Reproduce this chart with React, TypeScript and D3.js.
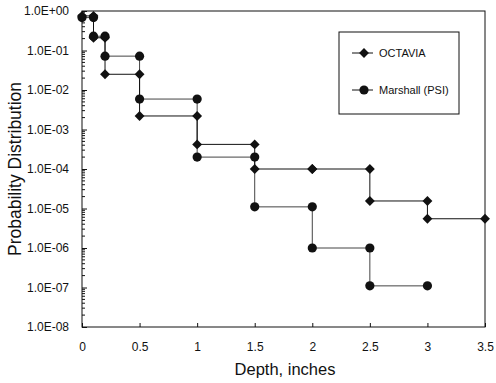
import React, { useEffect, useRef } from 'react';
import * as d3 from 'd3';

// step boundaries (inches) and the level of each step
const depthEdges = [0, 0.1, 0.2, 0.5, 1, 1.5, 2, 2.5, 3, 3.5];
const octaviaLevels = [0.75, 0.21, 0.025, 0.0022, 0.00042, 0.0001, 0.0001, 0.0000155, 0.0000055];
const marshallLevels = [0.68, 0.23, 0.072, 0.0059, 0.0002, 0.000011, 0.000001, 0.00000011];
const xTicks = [0, 0.5, 1, 1.5, 2, 2.5, 3, 3.5];
const yTickExps = [0, -1, -2, -3, -4, -5, -6, -7, -8];
const seriesNames = ['OCTAVIA', 'Marshall (PSI)'];

const stepPoints = (levels: number[]) => {
    const pts: [number, number][] = [];
    levels.forEach((v, i) => {
        pts.push([depthEdges[i], v]);
        pts.push([depthEdges[i + 1], v]);
    });
    return pts;
};

const Chart = () => {
    const svgRef = useRef<SVGSVGElement>(null);

    useEffect(() => {
        const svg = d3.select(svgRef.current);
        const width = 496;
        const height = 383;
        const margin = { top: 11, right: 11, bottom: 56, left: 82 };
        const font = 'Liberation Sans, Arial, sans-serif';
        const ink = '#111';

        svg.selectAll('*').remove();

        const x = d3.scaleLinear()
            .domain([0, 3.5])
            .range([margin.left, width - margin.right]);

        const y = d3.scaleLog()
            .domain([1e-8, 1])
            .range([height - margin.bottom, margin.top]);

        // frame
        svg.append('rect')
            .attr('x', margin.left)
            .attr('y', margin.top)
            .attr('width', width - margin.left - margin.right)
            .attr('height', height - margin.top - margin.bottom)
            .attr('fill', 'none')
            .attr('stroke', ink)
            .attr('stroke-width', 1);

        // minor ticks on the log axis
        const minors: number[] = [];
        for (let k = -8; k < 0; k++) {
            for (let m = 2; m <= 9; m++) minors.push(m * Math.pow(10, k));
        }
        svg.append('g')
            .selectAll('line')
            .data(minors)
            .enter()
            .append('line')
            .attr('x1', margin.left)
            .attr('x2', margin.left + 3)
            .attr('y1', d => y(d))
            .attr('y2', d => y(d))
            .attr('stroke', ink);

        const yAxis = svg.append('g')
            .attr('transform', `translate(${margin.left},0)`)
            .call(d3.axisLeft(y)
                .tickValues(yTickExps.map(k => Math.pow(10, k)))
                .tickSize(-5)
                .tickPadding(13)
                .tickFormat((d: any) => {
                    const k = Math.round(Math.log10(d));
                    return k === 0 ? '1.0E+00' : `1.0E-0${-k}`;
                }));
        yAxis.select('.domain').remove();
        yAxis.selectAll('line').attr('stroke', ink);
        yAxis.selectAll('text')
            .attr('font-family', font)
            .attr('font-size', 12)
            .attr('fill', ink);

        const xAxis = svg.append('g')
            .attr('transform', `translate(0,${height - margin.bottom})`)
            .call(d3.axisBottom(x)
                .tickValues(xTicks)
                .tickSize(-4)
                .tickPadding(15)
                .tickFormat(d3.format('')));
        xAxis.select('.domain').remove();
        xAxis.selectAll('line').attr('stroke', ink);
        xAxis.selectAll('text')
            .attr('font-family', font)
            .attr('font-size', 12)
            .attr('fill', ink);

        const line = d3.line<[number, number]>()
            .x(d => x(d[0]))
            .y(d => y(d[1]));

        const diamond = d3.symbol().type(d3.symbolDiamond2).size(62);

        const drawSeries = (levels: number[], isDiamond: boolean, stroke: string) => {
            const pts = stepPoints(levels);
            svg.append('path')
                .datum(pts)
                .attr('d', line)
                .attr('fill', 'none')
                .attr('stroke', stroke)
                .attr('stroke-width', 1);
            const g = svg.append('g');
            if (isDiamond) {
                g.selectAll('path')
                    .data(pts)
                    .enter()
                    .append('path')
                    .attr('d', diamond)
                    .attr('transform', d => `translate(${x(d[0])},${y(d[1])})`)
                    .attr('fill', ink);
            } else {
                g.selectAll('circle')
                    .data(pts)
                    .enter()
                    .append('circle')
                    .attr('cx', d => x(d[0]))
                    .attr('cy', d => y(d[1]))
                    .attr('r', 4.6)
                    .attr('fill', ink);
            }
        };

        drawSeries(marshallLevels, false, '#444');
        drawSeries(octaviaLevels, true, ink);

        // legend
        const legend = svg.append('g').attr('transform', 'translate(339,32)');
        legend.append('rect')
            .attr('width', 120)
            .attr('height', 82)
            .attr('fill', 'white')
            .attr('stroke', ink);
        seriesNames.forEach((name, i) => {
            const ly = 21 + i * 37;
            legend.append('line')
                .attr('x1', 13).attr('x2', 34)
                .attr('y1', ly).attr('y2', ly)
                .attr('stroke', ink);
            if (i === 0) {
                legend.append('path')
                    .attr('d', diamond)
                    .attr('transform', `translate(25,${ly})`)
                    .attr('fill', ink);
            } else {
                legend.append('circle')
                    .attr('cx', 25).attr('cy', ly).attr('r', 4.6)
                    .attr('fill', ink);
            }
            legend.append('text')
                .attr('x', 40)
                .attr('y', ly + 4)
                .attr('font-family', font)
                .attr('font-size', 11)
                .attr('fill', ink)
                .text(name);
        });

        svg.append('text')
            .attr('x', 285)
            .attr('y', 375)
            .attr('text-anchor', 'middle')
            .attr('font-family', font)
            .attr('font-size', 16.5)
            .attr('fill', ink)
            .text('Depth, inches');

        svg.append('text')
            .attr('transform', `translate(21,${(margin.top + height - margin.bottom) / 2}) rotate(-90)`)
            .attr('text-anchor', 'middle')
            .attr('font-family', font)
            .attr('font-size', 17.5)
            .attr('fill', ink)
            .text('Probability Distribution');
    }, []);

    return (
        <svg ref={svgRef} width={496} height={383}
            style={{ position: 'absolute', left: 0, top: 0, overflow: 'visible' }}></svg>
    );
};

const App = () => {
    return (
        <div>
            <Chart />
        </div>
    );
};

export default App;
